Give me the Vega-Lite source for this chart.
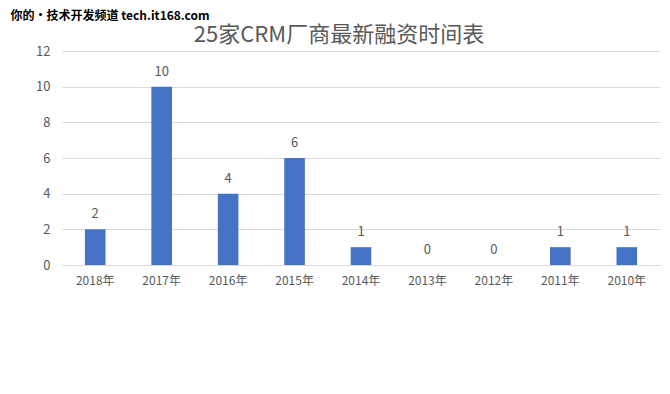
{
  "$schema": "https://vega.github.io/schema/vega-lite/v6.json",
  "autosize": "none",
  "width": 598,
  "height": 214,
  "padding": {"left": 62, "top": 51, "right": 10, "bottom": 129},
  "background": "white",
  "config": {
    "view": {"stroke": null},
    "font": "Noto Sans CJK SC"
  },
  "title": {
    "text": "25家CRM厂商最新融资时间表",
    "anchor": "middle",
    "frame": "group",
    "dx": -22,
    "offset": 0,
    "dy": 55,
    "baseline": "alphabetic",
    "fontSize": 22,
    "fontWeight": "normal",
    "color": "#595959",
    "font": "Noto Sans CJK SC"
  },
  "data": {
    "values": [
      {"year": "2018年", "count": 2},
      {"year": "2017年", "count": 10},
      {"year": "2016年", "count": 4},
      {"year": "2015年", "count": 6},
      {"year": "2014年", "count": 1},
      {"year": "2013年", "count": 0},
      {"year": "2012年", "count": 0},
      {"year": "2011年", "count": 1},
      {"year": "2010年", "count": 1}
    ]
  },
  "encoding": {
    "x": {
      "field": "year",
      "type": "nominal",
      "sort": null,
      "scale": {"paddingInner": 0.69, "paddingOuter": 0.345},
      "axis": {
        "title": null,
        "labelAngle": 0,
        "labelFontSize": 12,
        "labelColor": "#595959",
        "labelPadding": 10,
        "ticks": false,
        "domainColor": "#d9d9d9",
        "domainWidth": 1
      }
    },
    "y": {
      "field": "count",
      "type": "quantitative",
      "scale": {"domain": [0, 12], "nice": false},
      "axis": {
        "title": "你的·技术开发频道 tech.it168.com",
        "titleAngle": 0,
        "titleAlign": "left",
        "titleBaseline": "middle",
        "titleX": -52,
        "titleY": -36,
        "titleFontSize": 12,
        "titleFontWeight": "bold",
        "titleColor": "black",
        "titleFont": "Noto Sans CJK SC",
        "values": [0, 2, 4, 6, 8, 10, 12],
        "labelFontSize": 13,
        "labelColor": "#595959",
        "labelPadding": 12,
        "ticks": false,
        "domain": false,
        "gridColor": "#d9d9d9",
        "gridWidth": 1
      }
    }
  },
  "layer": [
    {"mark": {"type": "bar", "color": "#4472C4"}},
    {
      "mark": {"type": "text", "dy": -11, "baseline": "alphabetic", "fontSize": 13, "color": "#595959"},
      "encoding": {"text": {"field": "count", "type": "quantitative"}}
    }
  ]
}
